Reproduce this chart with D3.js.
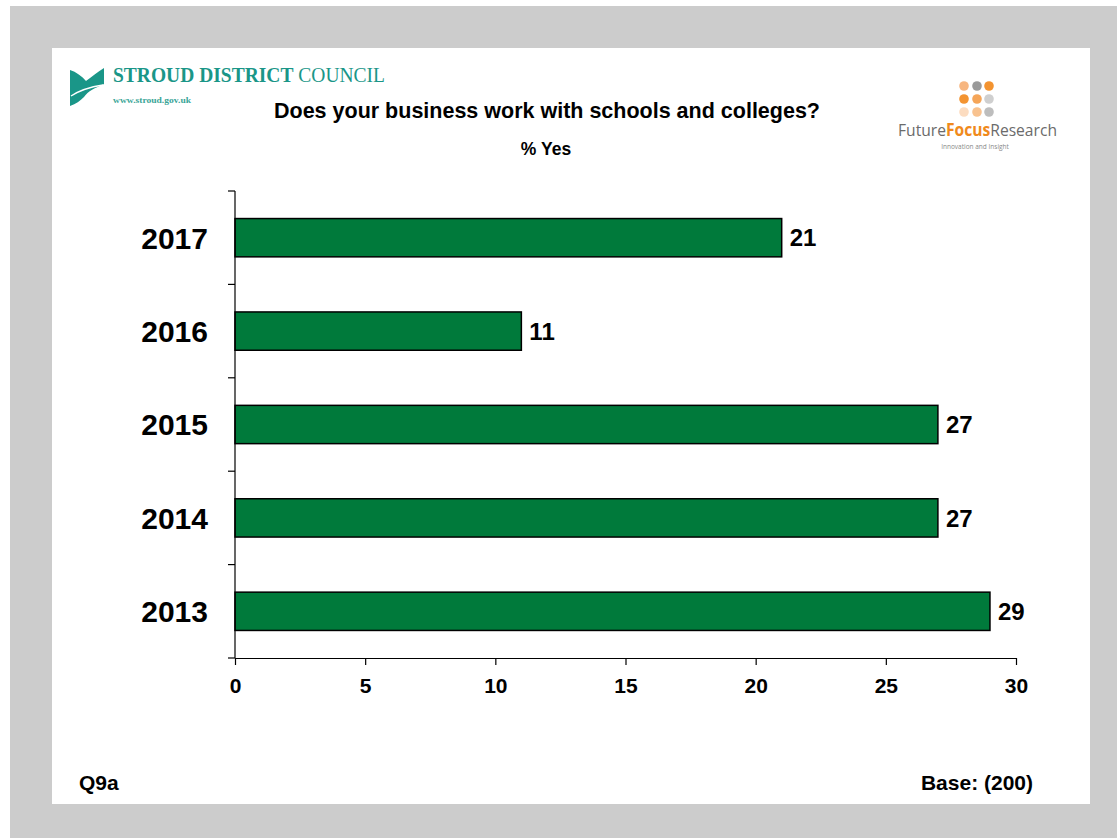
<!DOCTYPE html>
<html>
<head>
<meta charset="utf-8">
<script src="https://cdn.jsdelivr.net/npm/d3@7"></script>
<style>
  html, body { margin: 0; padding: 0; background: #fff; }
  svg { display: block; }
</style>
</head>
<body>
<svg id="chart" width="1117" height="838"></svg>
<script>
// Survey results: share of businesses working with schools and colleges
const years = ["2017", "2016", "2015", "2014", "2013"];
const pctYes = [21, 11, 27, 27, 29];
const xTicks = [0, 5, 10, 15, 20, 25, 30];

const title = "Does your business work with schools and colleges?";
const subtitle = "% Yes";
const questionRef = "Q9a";
const baseNote = "Base: (200)";

const svg = d3.select("#chart");
const font = "Arial, 'Liberation Sans', Helvetica, sans-serif";

// Slide frame: grey surround with a white card
svg.append("rect").attr("x", 10).attr("y", 6).attr("width", 1107).attr("height", 832).attr("fill", "#cccccc");
svg.append("rect").attr("x", 52).attr("y", 48).attr("width", 1038).attr("height", 756).attr("fill", "#ffffff");

// Plot area
const x = d3.scaleLinear().domain([0, 30]).range([235, 1016]);
const y = d3.scaleBand().domain(years).range([191, 658]).paddingInner(0.59).paddingOuter(0.295);
const yTicks = d3.scaleBand().domain(years).range([191, 658]);

const rows = years.map((yr, i) => ({ yr, v: pctYes[i] }));

// Bars
svg.append("g").selectAll("rect")
  .data(rows)
  .join("rect")
  .attr("x", x(0))
  .attr("y", d => y(d.yr))
  .attr("width", d => x(d.v) - x(0))
  .attr("height", y.bandwidth())
  .attr("fill", "#007a3b")
  .attr("stroke", "#000")
  .attr("stroke-width", 1.5);

// Value labels
svg.append("g").selectAll("text")
  .data(rows)
  .join("text")
  .attr("x", d => x(d.v) + 8)
  .attr("y", d => y(d.yr) + y.bandwidth() / 2)
  .attr("dy", "0.36em")
  .attr("font-family", font)
  .attr("font-weight", "bold")
  .attr("font-size", 24)
  .attr("fill", "#000")
  .text(d => d.v);

// X axis
const xAxis = svg.append("g")
  .attr("transform", "translate(0,658)")
  .call(d3.axisBottom(x).tickValues(xTicks).tickSize(7).tickSizeOuter(0).tickPadding(13));
xAxis.select(".domain").attr("stroke", "#000").attr("stroke-width", 1.2);
xAxis.selectAll(".tick line").attr("stroke", "#000").attr("stroke-width", 1.2);
xAxis.selectAll(".tick text")
  .attr("font-family", font).attr("font-weight", "bold").attr("font-size", 21).attr("fill", "#000");

// Y axis: line with category boundary ticks on the left
const yAxisG = svg.append("g");
yAxisG.append("line").attr("x1", 235).attr("x2", 235).attr("y1", 191).attr("y2", 658)
  .attr("stroke", "#000").attr("stroke-width", 1.2);
const bounds = years.map(yr => yTicks(yr)).concat([yTicks.range()[1]]);
yAxisG.selectAll("line.tk").data(bounds).join("line").attr("class", "tk")
  .attr("x1", 228).attr("x2", 235).attr("y1", d => d).attr("y2", d => d)
  .attr("stroke", "#000").attr("stroke-width", 1.2);
yAxisG.selectAll("text").data(years).join("text")
  .attr("x", 208)
  .attr("y", d => yTicks(d) + yTicks.bandwidth() / 2)
  .attr("dy", "0.36em")
  .attr("text-anchor", "end")
  .attr("font-family", font).attr("font-weight", "bold").attr("font-size", 30).attr("fill", "#000")
  .text(d => d);

// Titles
svg.append("text").attr("x", 547).attr("y", 118).attr("text-anchor", "middle")
  .attr("font-family", font).attr("font-weight", "bold").attr("font-size", 21.5).text(title);
svg.append("text").attr("x", 546).attr("y", 155).attr("text-anchor", "middle")
  .attr("font-family", font).attr("font-weight", "bold").attr("font-size", 17.5).text(subtitle);

// Footer notes
svg.append("text").attr("x", 79).attr("y", 790)
  .attr("font-family", font).attr("font-weight", "bold").attr("font-size", 21).text(questionRef);
svg.append("text").attr("x", 1033).attr("y", 790).attr("text-anchor", "end")
  .attr("font-family", font).attr("font-weight", "bold").attr("font-size", 21).text(baseNote);

// Stroud District Council logo
const teal = "#1a9688";
const sdc = svg.append("g");
sdc.append("path")
  .attr("d", "M70,70 C76,72 82,76 86,81 C92,77 97,72 104,68 L104,84 C95,88 88,91 84,97 C80,101 76,104 70,106 Z")
  .attr("fill", teal);
sdc.append("path")
  .attr("d", "M71,96 C80,90 90,87 103,85")
  .attr("fill", "none").attr("stroke", "#fff").attr("stroke-width", 1.3);
const sdcText = sdc.append("text").attr("x", 113).attr("y", 82)
  .attr("font-family", "'Liberation Serif', 'DejaVu Serif', serif").attr("font-size", 20)
  .attr("textLength", 272).attr("lengthAdjust", "spacingAndGlyphs").attr("fill", teal);
sdcText.append("tspan").attr("font-weight", "bold").text("STROUD DISTRICT");
sdcText.append("tspan").text(" COUNCIL");
sdc.append("text").attr("x", 113).attr("y", 103)
  .attr("font-family", "'Liberation Serif', serif").attr("font-weight", "bold").attr("font-size", 8)
  .attr("textLength", 78).attr("lengthAdjust", "spacingAndGlyphs").attr("fill", "#3aa597")
  .text("www.stroud.gov.uk");

// Future Focus Research logo
const ffr = svg.append("g");
const dotCols = [964, 977, 989];
const dotRows = [86, 99, 112];
const dotColours = [
  ["#f7b680", "#9a9a9a", "#f39330"],
  ["#f39330", "#f5a558", "#cfcfcf"],
  ["#fcdcc0", "#f8c28f", "#bdbdbd"]
];
dotRows.forEach((cy, r) => dotCols.forEach((cx, c) => {
  ffr.append("circle").attr("cx", cx).attr("cy", cy).attr("r", 4.8).attr("fill", dotColours[r][c]);
}));

// Word mark laid out piece by piece so the three words sit side by side
const wordParts = [
  { t: "Future", bold: false, fill: "#6b6b6b" },
  { t: "Focus", bold: true, fill: "#f08a1c" },
  { t: "Research", bold: false, fill: "#6b6b6b" }
];
const markSize = 17, markWidth = 159;
const markNodes = wordParts.map(p => ffr.append("text")
  .attr("y", 136)
  .attr("font-family", "'Open Sans', 'DejaVu Sans', sans-serif")
  .attr("font-size", markSize)
  .attr("font-weight", p.bold ? "bold" : "normal")
  .attr("fill", p.fill)
  .text(p.t));
const natural = markNodes.map(n => n.node().getComputedTextLength());
const k = markWidth / d3.sum(natural);
let cursor = 898;
markNodes.forEach((n, i) => {
  n.attr("x", 0).attr("transform", `translate(${cursor},0) scale(${k},1)`);
  cursor += natural[i] * k;
});
ffr.append("text").attr("x", 975).attr("y", 149).attr("text-anchor", "middle")
  .attr("font-family", "'Open Sans', sans-serif").attr("font-size", 6.5).attr("fill", "#888")
  .text("Innovation and Insight");
</script>
</body>
</html>
